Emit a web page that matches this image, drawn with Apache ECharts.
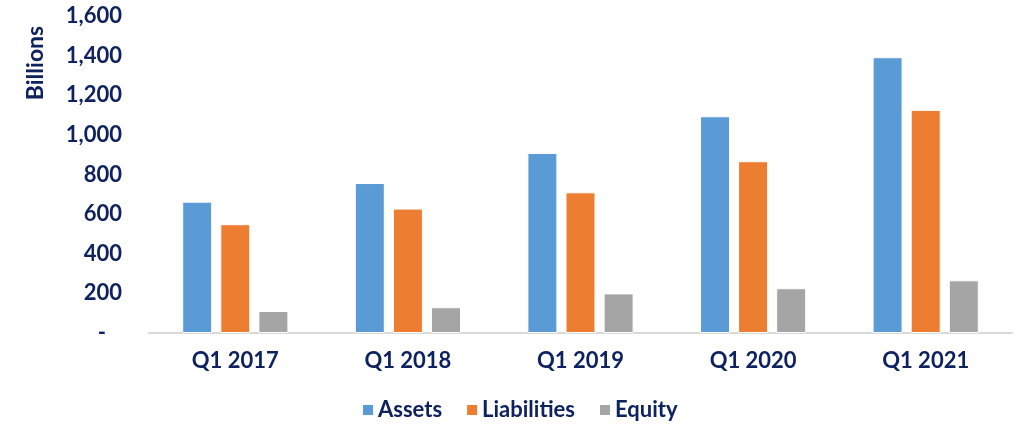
<!DOCTYPE html>
<html>
<head>
<meta charset="utf-8">
<script src="https://cdn.jsdelivr.net/npm/echarts@6.0.0/dist/echarts.min.js"></script>
<style>
  html, body { margin: 0; padding: 0; background: #fff; }
  #chart { width: 1020px; height: 424px; }
</style>
</head>
<body>
<div id="chart"></div>
<script>
const categories = ['Q1 2017', 'Q1 2018', 'Q1 2019', 'Q1 2020', 'Q1 2021'];
const assets = [663, 757, 909, 1094, 1392];
const liabilities = [549, 628, 710, 867, 1126];
const equity = [111, 130, 200, 226, 266];

const navy = '#0f2260';
const font = 'Lato';

const chart = echarts.init(document.getElementById('chart'));

function barSeries(name, data, color) {
    return {
        name: name,
        type: 'bar',
        data: data,
        barWidth: 30,
        barGap: '27%',
        itemStyle: { color: color, borderColor: '#fff', borderWidth: 1 }
    };
}

chart.setOption({
    backgroundColor: '#fff',
    animation: false,
    grid: { left: 149, right: 8, top: 16, bottom: 91 },
    legend: {
        top: 399,
        left: 361,
        padding: 0,
        itemWidth: 12,
        itemHeight: 12,
        itemGap: 23,
        icon: 'rect',
        textStyle: { color: navy, fontFamily: font, fontWeight: 'bold', fontSize: 22, padding: [0, 0, 0, -1] },
        data: ['Assets', 'Liabilities', 'Equity']
    },
    graphic: [{
        type: 'text',
        x: 36,
        y: 63,
        rotation: Math.PI / 2,
        style: {
            text: 'Billions',
            fill: navy,
            font: 'bold 23px Lato',
            align: 'center',
            verticalAlign: 'middle'
        }
    }],
    xAxis: {
        type: 'category',
        data: categories,
        axisLine: { lineStyle: { color: '#d9d9d9', width: 2 } },
        axisTick: { show: false },
        axisLabel: { color: navy, fontFamily: font, fontWeight: 'bold', fontSize: 22, margin: 17 }
    },
    yAxis: {
        type: 'value',
        min: 0,
        max: 1600,
        interval: 200,
        splitLine: { show: false },
        axisLine: { show: false },
        axisTick: { show: false },
        axisLabel: {
            color: navy,
            fontFamily: font,
            fontWeight: 'bold',
            fontSize: 22,
            margin: 27,
            formatter: v => v === 0 ? '-   ' : v.toLocaleString('en-US')
        }
    },
    series: [
        barSeries('Assets', assets, '#5b9bd5'),
        barSeries('Liabilities', liabilities, '#ed7d31'),
        barSeries('Equity', equity, '#a5a5a5')
    ]
});
</script>
</body>
</html>
